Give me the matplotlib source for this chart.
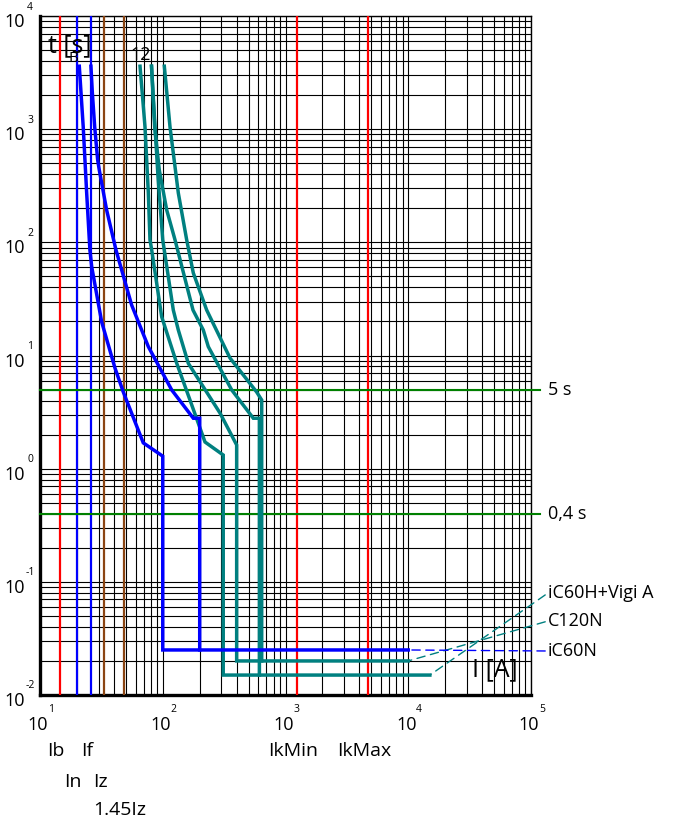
import matplotlib
matplotlib.use("Agg")
import matplotlib.pyplot as plt
import numpy as np

plt.rcParams['font.family'] = ['Open Sans', 'DejaVu Sans']

# tripping curves: current [A], time [s]
iC60N_low_I = [20.9, 22.5, 24.0, 25.5, 26.4, 31.8, 40.8, 47.7, 69.4, 100, 100, 10000]
iC60N_low_t = [3600, 1045, 273, 85.5, 60.5, 19.8, 7.76, 4.76, 1.69, 1.29, 0.025, 0.025]
iC60N_up_I = [26, 26.7, 27.9, 29.5, 30.4, 34.9, 41.6, 55.8, 76.3, 118.3, 177.4, 200, 200]
iC60N_up_t = [3600, 2088, 1045, 534, 436, 193, 85.5, 27.9, 11.97, 4.96, 2.79, 2.79, 0.025]

iC60H_low_I = [65.3, 71.7, 76.3, 78.7, 81.3, 98.0, 130, 166.7, 220.9, 311, 311, 15000]
iC60H_low_t = [3600, 1045, 273, 105, 85.5, 22.0, 8.53, 4.04, 1.72, 1.32, 0.015, 0.015]
iC60H_up_I = [81, 86, 93.7, 107.7, 125.9, 176.4, 213.9, 235, 364.6, 546.8, 613, 613]
iC60H_up_t = [3600, 1045, 436, 193, 105, 25.2, 16.8, 11.97, 4.96, 2.79, 2.79, 0.015]

C120N_low_I = [81, 86.5, 91.5, 100, 121.9, 133.9, 161.5, 292.7, 400, 400, 10000]
C120N_low_t = [3600, 1045, 378, 105, 25.2, 16.8, 8.53, 3.10, 1.62, 0.020, 0.020]
C120N_up_I = [103, 114.6, 133.9, 156.7, 177.4, 228, 353, 582, 640, 640]
C120N_up_t = [3600, 1045, 273, 105, 53.6, 25.2, 9.5, 4.76, 4.04, 0.020]

# reference currents
ref_names = ['Ib', 'In', 'If', 'Iz', '1.45Iz', 'IkMin', 'IkMax']
ref_values = [14.5, 20, 26, 33.4, 48.5, 1248, 4727]
ref_colors = ['#ff0000', '#0000ff', '#0000ff', '#8b4513', '#8b4513', '#ff0000', '#ff0000']
ref_rows = [0, 1, 0, 1, 2, 0, 0]

# time limits
limit_times = [5, 0.4]
limit_labels = ['5 s', '0,4 s']

W, H = 678, 823
fig = plt.figure(figsize=(W / 100, H / 100), dpi=100)
ax = fig.add_axes([40 / W, 1 - 695 / H, 491 / W, 679 / H])
ax.set_xscale('log')
ax.set_yscale('log')
ax.set_xlim(10, 1e5)
ax.set_ylim(1e-2, 1e4)

ax.grid(True, which='both', color='black', linewidth=0.8)
ax.set_axisbelow(True)
ax.tick_params(which='both', length=0, labelbottom=False, labelleft=False)
for side in ['left', 'bottom']:
    ax.spines[side].set_linewidth(2.4)
for side in ['top', 'right']:
    ax.spines[side].set_linewidth(1.0)

# vertical lines of the reference currents
for v, c in zip(ref_values, ref_colors):
    ax.axvline(v, color=c, linewidth=1.6, zorder=3)

# 5 s / 0.4 s limits
for t in limit_times:
    ax.plot([10, 10 ** 5.07], [t, t], color='#008000', linewidth=1.5, zorder=3, clip_on=False)

teal = '#008080'
lw = 2.5
ax.plot(iC60N_low_I, iC60N_low_t, color='#0000ff', lw=lw, zorder=5, solid_joinstyle='miter')
ax.plot(iC60N_up_I, iC60N_up_t, color='#0000ff', lw=lw, zorder=5, solid_joinstyle='miter')
ax.plot(iC60H_low_I, iC60H_low_t, color=teal, lw=lw, zorder=4, solid_joinstyle='miter')
ax.plot(iC60H_up_I, iC60H_up_t, color=teal, lw=lw, zorder=4, solid_joinstyle='miter')
ax.plot(C120N_low_I, C120N_low_t, color=teal, lw=lw, zorder=4, solid_joinstyle='miter')
ax.plot(C120N_up_I, C120N_up_t, color=teal, lw=lw, zorder=4, solid_joinstyle='miter')

# decade labels drawn as 10 + small exponent
for k in range(1, 6):
    ax.annotate('10', xy=(10 ** k, 0), xycoords=('data', 'axes fraction'),
                xytext=(-2, -30), textcoords='offset pixels',
                ha='center', va='center', fontsize=13)
    ax.annotate(str(k), xy=(10 ** k, 0), xycoords=('data', 'axes fraction'),
                xytext=(11, -14), textcoords='offset pixels',
                ha='center', va='center', fontsize=7.5)
for k in range(-2, 5):
    ax.annotate('10', xy=(0, 10 ** k), xycoords=('axes fraction', 'data'),
                xytext=(-25, -6), textcoords='offset pixels',
                ha='center', va='center', fontsize=13)
    ax.annotate(str(k), xy=(0, 10 ** k), xycoords=('axes fraction', 'data'),
                xytext=(-10, 9), textcoords='offset pixels',
                ha='center', va='center', fontsize=7.5)

# names of the reference currents under the axis
row_y = [-56, -87, -115]
for name, v, r in zip(ref_names, ref_values, ref_rows):
    ax.annotate(name, xy=(v, 0), xycoords=('data', 'axes fraction'),
                xytext=(-4, row_y[r]), textcoords='offset pixels',
                ha='center', va='center', fontsize=14)

for lab, t in zip(limit_labels, limit_times):
    ax.annotate(lab, xy=(1, t), xycoords=('axes fraction', 'data'),
                xytext=(17, 0), textcoords='offset pixels',
                ha='left', va='center', fontsize=13)

# device names with dashed leaders from the end of each curve
legend = [('iC60H+Vigi A', iC60H_low_I[-1], iC60H_low_t[-1], teal, 593),
          ('C120N', C120N_low_I[-1], C120N_low_t[-1], teal, 621),
          ('iC60N', iC60N_low_I[-1], iC60N_low_t[-1], '#0000ff', 651)]
for lab, xi, yt, c, py in legend:
    ax.annotate(lab, xy=(xi, yt), xycoords='data',
                xytext=(548, H - py), textcoords='figure pixels',
                ha='left', va='center', fontsize=13,
                arrowprops=dict(arrowstyle='-', color=c, lw=1, linestyle=(0, (6, 4)),
                                shrinkA=0, shrinkB=0, relpos=(0, 0.5)))

fig.text(48 / W, 1 - 46 / H, 't [s]', ha='left', va='center', fontsize=18)
fig.text(73 / W, 1 - 58 / H, 'B', ha='center', va='center', fontsize=11)
fig.text(141 / W, 1 - 55 / H, '12', ha='center', va='center', fontsize=13)
fig.text(495 / W, 1 - 670 / H, 'I [A]', ha='center', va='center', fontsize=18)

fig.savefig('out.png', dpi=100)
